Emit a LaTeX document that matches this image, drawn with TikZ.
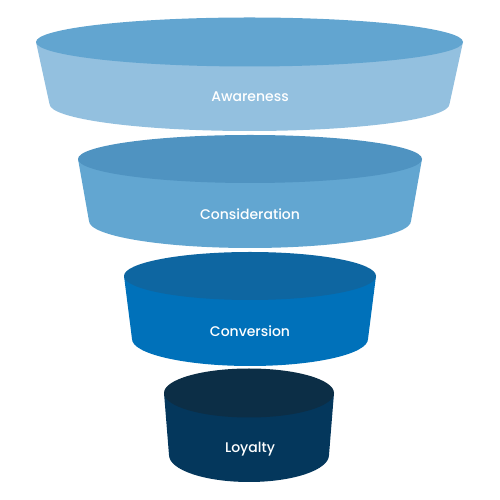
\documentclass[tikz,border=0pt]{standalone}
\usepackage{fontspec}
\newfontfamily\popfont{Poppins Medium}
\definecolor{awtop}{HTML}{62A5D0}
\definecolor{awside}{HTML}{93C0DF}
\definecolor{cotop}{HTML}{4F93C1}
\definecolor{coside}{HTML}{62A6D1}
\definecolor{cvtop}{HTML}{0E66A1}
\definecolor{cvside}{HTML}{0071BA}
\definecolor{lytop}{HTML}{0C2E46}
\definecolor{lyside}{HTML}{04375C}
\tikzset{
  tierlabel/.style={text=white,font=\popfont\fontsize{14}{16}\selectfont,inner sep=0pt}
}
% #1 cx, #2 top cy, #3 rx1, #4 ry1, #5 bottom cy, #6 rx2, #7 ry2, #8 side colour, #9 top colour
\newcommand{\funneltier}[9]{%
  \fill[#8] ({#1-#3},{500-#2}) -- ({#1-#6},{500-#5})
     arc[start angle=180,end angle=360,x radius=#6,y radius=#7]
     -- ({#1+#3},{500-#2}) -- cycle;
  \fill[#9] (#1,{500-#2}) ellipse[x radius=#3,y radius=#4];
}
\begin{document}
\begin{tikzpicture}[x=1pt,y=1pt]
\useasboundingbox (0,0) rectangle (500,500);
\funneltier{249.5}{42}{213.5}{24.5}{104}{200}{27}{awside}{awtop}
\funneltier{250}{159}{172}{24}{221}{161}{27}{coside}{cotop}
\funneltier{250}{276}{126}{24}{339}{118}{27}{cvside}{cvtop}
\funneltier{249}{393}{85}{24.5}{455}{80}{27}{lyside}{lytop}
\node[tierlabel] (aw) at (250,{500-97}) {Awareness};
\node[tierlabel] (co) at (250,{500-214}) {Consideration};
\node[tierlabel] (cv) at (250,{500-331}) {Conversion};
\node[tierlabel] (ly) at (250,{500-449}) {Loyalty};
\end{tikzpicture}
\end{document}
